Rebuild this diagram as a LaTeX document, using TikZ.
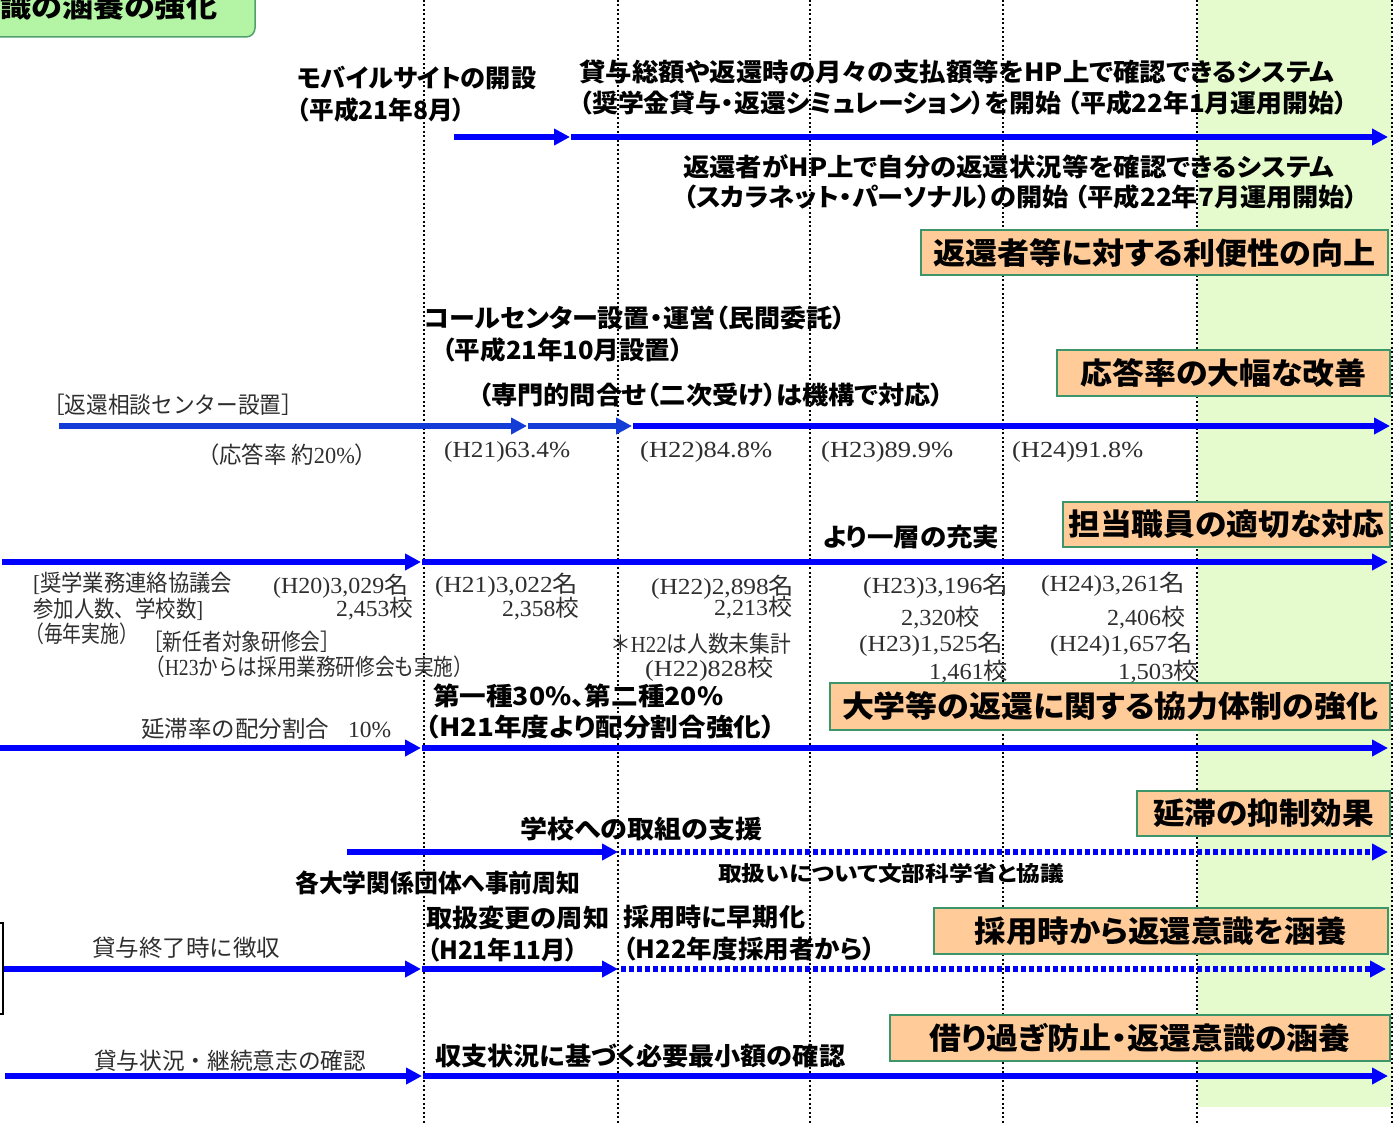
\documentclass[tikz,border=0pt]{standalone}
\usepackage{fontspec}
\usepackage{graphicx}
\setmainfont{Liberation Serif}
\newfontfamily\jpg[RawFeature=+palt]{Noto Sans CJK JP}
\newfontfamily\jpm{Noto Sans CJK JP}
\usetikzlibrary{arrows.meta}
\newcommand\fw[2]{\resizebox{#1pt}{\height}{#2}}
\newcommand\J[1]{{\jpm #1}}
\definecolor{arrowblue}{RGB}{0,0,255}
\definecolor{darkblue}{RGB}{20,60,215}
\definecolor{peach}{RGB}{255,204,153}
\definecolor{boxgreen}{RGB}{60,150,105}
\definecolor{bggreen}{RGB}{229,251,205}
\definecolor{tlgreen}{RGB}{180,245,165}
\definecolor{tlborder}{RGB}{80,160,110}
\tikzset{
  bt/.style={anchor=west, inner sep=0pt, font=\jpg\bfseries\fontsize{25}{25}\selectfont},
  bts/.style={anchor=west, inner sep=0pt, font=\jpg\bfseries\fontsize{21}{21}\selectfont},
  st/.style={anchor=west, inner sep=0pt, text=black!82, font=\fontsize{23}{23}\selectfont},
  obox/.style={draw=boxgreen, line width=2.2pt, fill=peach, inner sep=0pt, font=\jpg\bfseries\fontsize{30}{30}\selectfont},
  bar/.style={line width=5.5pt, draw=arrowblue, -{Triangle[length=16pt,width=16pt]}},
  dbar/.style={bar, dash pattern=on 4.5pt off 3.5pt},
  vline/.style={draw=black, line width=2pt, dash pattern=on 2pt off 2.5pt},
}
\begin{document}
\begin{tikzpicture}[x=1pt,y=-1pt]
\useasboundingbox (0,0) rectangle (1395,1124);
% green band
\fill[bggreen] (1198,0) rectangle (1392,1107);
% vertical dotted lines
\foreach \xx in {424,618,810,1003,1197,1392}{
  \draw[vline] (\xx,0) -- (\xx,1124);
}
% top-left rounded box
\draw[draw=tlborder, fill=tlgreen, line width=1.5pt, rounded corners=9pt] (-20,-20) rectangle (255,37);
\node[anchor=west, inner sep=0pt, font=\jpg\bfseries\fontsize{27}{27}\selectfont] (tl) at (0,7) {\fw{217}{識の涵養の強化}};
% left partial box
\draw[line width=1.5pt] (-10,923) rectangle (3,1014);

% ---------- coordinates for arrows ----------
\coordinate (r1a) at (454,137); \coordinate (r1b) at (570,137); \coordinate (r1c) at (1388,137);
\coordinate (r2a) at (59,426); \coordinate (r2b) at (527,426); \coordinate (r2c) at (632,426); \coordinate (r2d) at (1390,426);
\coordinate (r3a) at (2,562); \coordinate (r3b) at (421,562); \coordinate (r3c) at (1388,562);
\coordinate (r4a) at (0,748); \coordinate (r4b) at (421,748); \coordinate (r4c) at (1388,748);
\coordinate (r5a) at (347,852); \coordinate (r5b) at (618,852); \coordinate (r5c) at (1388,852);
\coordinate (r6a) at (4,969); \coordinate (r6b) at (421,969); \coordinate (r6c) at (618,969); \coordinate (r6d) at (1386,969);
\coordinate (r7a) at (5,1076); \coordinate (r7b) at (422,1076); \coordinate (r7c) at (1388,1076);

% ---------- arrows ----------
\draw[bar] (r1a) -- (r1b);
\draw[bar] ([xshift=1pt]r1b) -- (r1c);
\draw[bar, draw=darkblue] (r2a) -- (r2b);
\draw[bar, draw=darkblue] ([xshift=1pt]r2b) -- (r2c);
\draw[bar] ([xshift=1pt]r2c) -- (r2d);
\draw[bar] (r3a) -- (r3b);
\draw[bar] ([xshift=1pt]r3b) -- (r3c);
\draw[bar] (r4a) -- (r4b);
\draw[bar] ([xshift=1pt]r4b) -- (r4c);
\draw[bar] (r5a) -- (r5b);
\draw[dbar] ([xshift=3pt]r5b) -- (r5c);
\draw[bar] (r6a) -- (r6b);
\draw[bar] ([xshift=1pt]r6b) -- (r6c);
\draw[dbar] ([xshift=3pt]r6c) -- (r6d);
\draw[bar] (r7a) -- (r7b);
\draw[bar] ([xshift=1pt]r7b) -- (r7c);

% ---------- orange boxes ----------
\node[obox, minimum width=467pt, minimum height=45pt] (ob1) at (1154.5,252.5) {\fw{442}{返還者等に対する利便性の向上}};
\node[obox, minimum width=333pt, minimum height=46pt] (ob2) at (1223.5,373) {\fw{286}{応答率の大幅な改善}};
\node[obox, minimum width=327pt, minimum height=45pt] (ob3) at (1226.5,524.5) {\fw{316}{担当職員の適切な対応}};
\node[obox, minimum width=560pt, minimum height=47pt] (ob4) at (1110,706.5) {\fw{536}{大学等の返還に関する協力体制の強化}};
\node[obox, minimum width=253pt, minimum height=45pt] (ob5) at (1263.5,813.5) {\fw{221}{延滞の抑制効果}};
\node[obox, minimum width=454pt, minimum height=46pt] (ob6) at (1161,931) {\fw{372}{採用時から返還意識を涵養}};
\node[obox, minimum width=500pt, minimum height=46pt] (ob7) at (1140,1038) {\fw{421}{借り過ぎ防止・返還意識の涵養}};

% ---------- bold texts ----------
\node[bt] (b1) at (297,78) {\fw{239}{モバイルサイトの開設}};
\node[bt] (b2) at (297,110) {\fw{168}{（平成21年8月）}};
\node[bt] (b3) at (579,72) {\fw{755}{貸与総額や返還時の月々の支払額等をHP上で確認できるシステム}};
\node[bt] (b4) at (579,103) {\fw{768}{（奨学金貸与・返還シミュレーション）を開始 （平成22年1月運用開始）}};
\node[bt] (b5) at (683,167) {\fw{651}{返還者がHP上で自分の返還状況等を確認できるシステム}};
\node[bt] (b6) at (683,197) {\fw{675}{（スカラネット・パーソナル）の開始 （平成22年7月運用開始）}};
\node[bt] (b7) at (424,318) {\fw{421}{コールセンター設置・運営（民間委託）}};
\node[bt] (b8) at (442,350) {\fw{241}{（平成21年10月設置）}};
\node[bt] (b9) at (478,395) {\fw{466}{（専門的問合せ（二次受け）は機構で対応）}};
\node[bt] (b10) at (823,537) {\fw{176}{より一層の充実}};
\node[bt] (b11) at (433,696) {\fw{290}{第一種30\%、第二種20\%}};
\node[bt] (b12) at (425,727) {\fw{350}{（H21年度より配分割合強化）}};
\node[bt] (b13) at (520,829) {\fw{242}{学校への取組の支援}};
\node[bt] (b14) at (295,883) {\fw{285}{各大学関係団体へ事前周知}};
\node[bts] (b15) at (718,873) {\fw{346}{取扱いについて文部科学省と協議}};
\node[bt] (b16) at (426,918) {\fw{183}{取扱変更の周知}};
\node[bt] (b17) at (427,950) {\fw{151}{（H21年11月）}};
\node[bt] (b18) at (623,917) {\fw{182}{採用時に早期化}};
\node[bt] (b19) at (623,949) {\fw{252}{（H22年度採用者から）}};
\node[bt] (b20) at (435,1056) {\fw{410}{収支状況に基づく必要最小額の確認}};

% ---------- thin (serif) texts ----------
\node[st] (s1) at (43,405) {\fw{260}{\J{［返還相談センター設置］}}};
\node[st] (s2) at (197,455) {\fw{180}{\J{（応答率 約}20\%\J{）}}};
\node[st] (s3) at (444,452) {\fw{126}{(H21)63.4\%}};
\node[st] (s4) at (640,452) {\fw{132}{(H22)84.8\%}};
\node[st] (s5) at (821,452) {\fw{132}{(H23)89.9\%}};
\node[st] (s6) at (1012,452) {\fw{131}{(H24)91.8\%}};
\node[st] (s7) at (33,583) {\fw{199}{[\J{奨学業務連絡協議会}}};
\node[st] (s8) at (33,609) {\fw{170}{\J{参加人数、学校数}]}};
\node[st] (s9) at (25,634) {\fw{113}{\J{（毎年実施）}}};
\node[st] (s10) at (273,586) {\fw{135}{(H20)3,029\J{名}}};
\node[st] (s11) at (336,609) {\fw{77}{2,453\J{校}}};
\node[st] (s12) at (143,642) {\fw{197}{\J{［新任者対象研修会］}}};
\node[st] (s13) at (145,667) {\fw{328}{\J{（}H23\J{からは採用業務研修会も実施）}}};
\node[st] (s14) at (435,585) {\fw{143}{(H21)3,022\J{名}}};
\node[st] (s15) at (502,609) {\fw{77}{2,358\J{校}}};
\node[st] (s16) at (651,587) {\fw{143}{(H22)2,898\J{名}}};
\node[st] (s17) at (714,608) {\fw{78}{2,213\J{校}}};
\node[st] (s18) at (610,644) {\fw{181}{\J{＊}H22\J{は人数未集計}}};
\node[st] (s19) at (645,669) {\fw{128}{(H22)828\J{校}}};
\node[st] (s20) at (863,586) {\fw{145}{(H23)3,196\J{名}}};
\node[st] (s21) at (901,618) {\fw{79}{2,320\J{校}}};
\node[st] (s22) at (859,644) {\fw{144}{(H23)1,525\J{名}}};
\node[st] (s23) at (929,672) {\fw{79}{1,461\J{校}}};
\node[st] (s24) at (1041,584) {\fw{144}{(H24)3,261\J{名}}};
\node[st] (s25) at (1107,618) {\fw{78}{2,406\J{校}}};
\node[st] (s26) at (1050,644) {\fw{142}{(H24)1,657\J{名}}};
\node[st] (s27) at (1118,672) {\fw{80}{1,503\J{校}}};
\node[st] (s28) at (141,729) {\fw{250}{\J{延滞率の配分割合}\hspace{0.8em}10\%}};
\node[st] (s29) at (92,948) {\fw{188}{\J{貸与終了時に徴収}}};
\node[st] (s30) at (94,1061) {\fw{272}{\J{貸与状況・継続意志の確認}}};
\end{tikzpicture}
\end{document}
